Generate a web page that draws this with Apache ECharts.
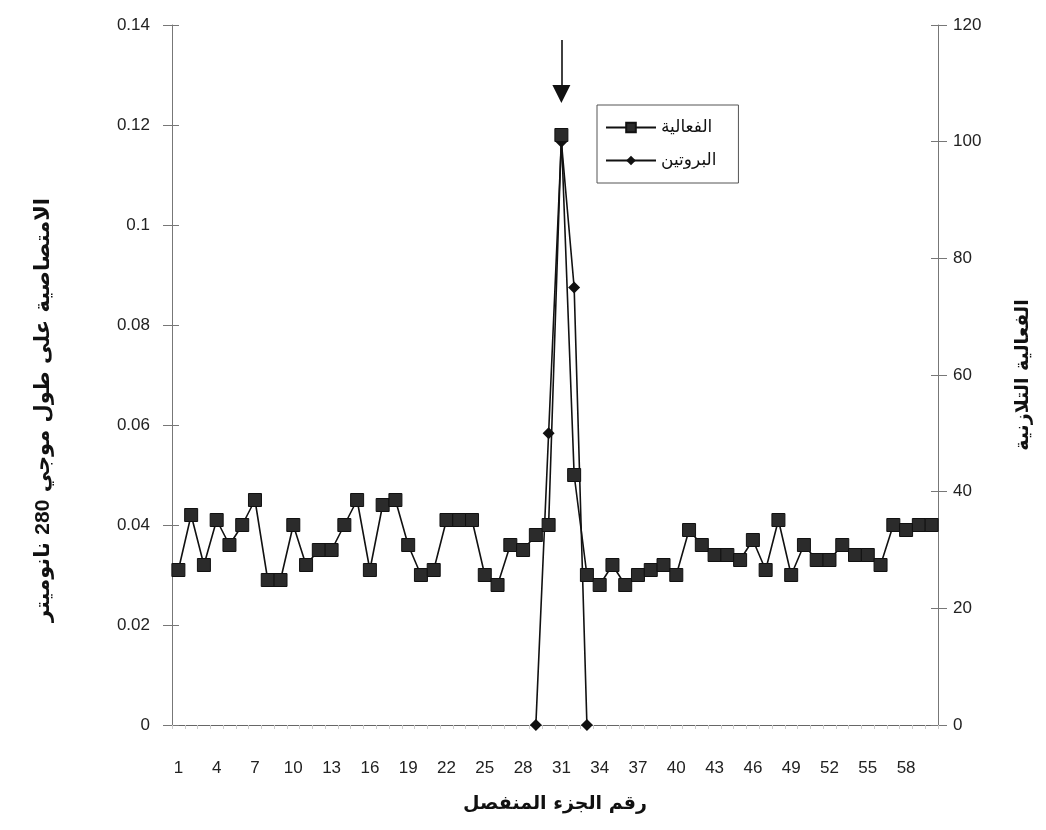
<!DOCTYPE html>
<html>
<head>
<meta charset="utf-8">
<script src="https://cdn.jsdelivr.net/npm/echarts@6/dist/echarts.min.js"></script>
<style>html,body{margin:0;padding:0;background:#fff}#c{width:1046px;height:830px}</style>
</head>
<body>
<div id="c"></div>
<script>
// Fraction numbers 1..60
const fractions = Array.from({length: 60}, (_, i) => String(i + 1));
// Squares series (left axis)
const activity = [
  0.031, 0.042, 0.032, 0.041, 0.036, 0.040, 0.045, 0.029, 0.029, 0.040,
  0.032, 0.035, 0.035, 0.040, 0.045, 0.031, 0.044, 0.045, 0.036, 0.030,
  0.031, 0.041, 0.041, 0.041, 0.030, 0.028, 0.036, 0.035, 0.038, 0.040,
  0.118, 0.050, 0.030, 0.028, 0.032, 0.028, 0.030, 0.031, 0.032, 0.030,
  0.039, 0.036, 0.034, 0.034, 0.033, 0.037, 0.031, 0.041, 0.030, 0.036,
  0.033, 0.033, 0.036, 0.034, 0.034, 0.032, 0.040, 0.039, 0.040, 0.040
];
// Diamonds series (right axis), only fractions 29-33
const protein = fractions.map(() => null);
const proteinFractions = ['29', '30', '31', '32', '33'];
const proteinValues = [0, 50, 100, 75, 0];
proteinFractions.forEach((f, i) => { protein[fractions.indexOf(f)] = proteinValues[i]; });

const seriesNames = ['الفعالية', 'البروتين'];
const xTitle = 'رقم الجزء المنفصل';
const leftTitleStart = 'الامتصاصية على طول موجي';
const leftTitleNumber = '280';
const leftTitleEnd = 'نانوميتر';
const rightTitle = 'الفعالية التلازنية';
const peakFraction = '31';

const numFont = 'Liberation Sans, Arial, sans-serif';
const arFont = 'DejaVu Sans, Noto Sans, sans-serif';

const chart = echarts.init(document.getElementById('c'), null, {renderer: 'canvas'});
chart.setOption({
  animation: false,
  backgroundColor: '#fff',
  grid: {left: 172, right: 108, top: 25, bottom: 105, containLabel: false},
  legend: {
    orient: 'vertical', left: 597, top: 105,
    data: seriesNames,
    borderColor: '#555', borderWidth: 1,
    padding: [14, 22, 14, 8],
    itemWidth: 50, itemHeight: 12, itemGap: 16,
    textStyle: {fontFamily: arFont, fontSize: 17, color: '#111'}
  },
  xAxis: {
    type: 'category', data: fractions, boundaryGap: true,
    name: xTitle, nameLocation: 'middle', nameGap: 70,
    nameTextStyle: {fontFamily: arFont, fontSize: 19, color: '#111', fontWeight: 'bold'},
    axisLine: {lineStyle: {color: '#666', width: 1}},
    axisTick: {show: true, interval: 0, length: 4, lineStyle: {color: '#ccc'}},
    axisLabel: {interval: 2, margin: 35, fontFamily: numFont, fontSize: 17, color: '#222'}
  },
  yAxis: [
    {
      type: 'value', min: 0, max: 0.14, interval: 0.02, position: 'left',
      name: '{a|' + leftTitleEnd + ' }{b|' + leftTitleNumber + '}{a| ' + leftTitleStart + '}',
      nameLocation: 'middle', nameGap: 118, nameRotate: 90,
      nameTextStyle: {
        fontFamily: arFont, fontSize: 21, color: '#111',
        padding: [0, 70, 0, 0],
        rich: {
          a: {fontFamily: arFont, fontSize: 21, color: '#111', fontWeight: 'bold'},
          b: {fontFamily: numFont, fontSize: 21, color: '#111', fontWeight: 'bold'}
        }
      },
      splitLine: {show: false},
      axisLine: {show: true, lineStyle: {color: '#777'}},
      axisTick: {show: true, length: 9, lineStyle: {color: '#777'}},
      axisLabel: {margin: 22, fontFamily: numFont, fontSize: 17, color: '#222'}
    },
    {
      type: 'value', min: 0, max: 120, interval: 20, position: 'right',
      name: rightTitle, nameLocation: 'middle', nameGap: 76, nameRotate: 90,
      nameTextStyle: {fontFamily: arFont, fontSize: 19, color: '#111', fontWeight: 'bold'},
      splitLine: {show: false},
      axisLine: {show: true, lineStyle: {color: '#777'}},
      axisTick: {show: true, length: 9, lineStyle: {color: '#777'}},
      axisLabel: {margin: 15, fontFamily: numFont, fontSize: 17, color: '#222'}
    },
    {
      type: 'value', min: 0, max: 0.14, interval: 0.02, position: 'left',
      splitLine: {show: false}, axisLine: {show: false}, axisLabel: {show: false},
      axisTick: {show: true, inside: true, length: 7, lineStyle: {color: '#777'}}
    },
    {
      type: 'value', min: 0, max: 120, interval: 20, position: 'right',
      splitLine: {show: false}, axisLine: {show: false}, axisLabel: {show: false},
      axisTick: {show: true, inside: true, length: 7, lineStyle: {color: '#777'}}
    }
  ],
  series: [
    {
      name: seriesNames[0], type: 'line', yAxisIndex: 0, data: activity,
      symbol: 'rect', symbolSize: 13, showAllSymbol: true,
      itemStyle: {color: '#2b2b2b', borderColor: '#111', borderWidth: 1},
      lineStyle: {color: '#111', width: 1.6},
      z: 3,
      markLine: {
        silent: true, symbol: ['none', 'triangle'], symbolSize: 18,
        label: {show: false},
        lineStyle: {color: '#111', width: 1.6, type: 'solid'},
        data: [[{coord: [peakFraction, 0.137]}, {coord: [peakFraction, 0.1262]}]]
      }
    },
    {
      name: seriesNames[1], type: 'line', yAxisIndex: 1, data: protein,
      connectNulls: false,
      symbol: 'diamond', symbolSize: 12, showAllSymbol: true,
      itemStyle: {color: '#111'},
      lineStyle: {color: '#111', width: 1.6},
      z: 2
    }
  ]
});
</script>
</body>
</html>
